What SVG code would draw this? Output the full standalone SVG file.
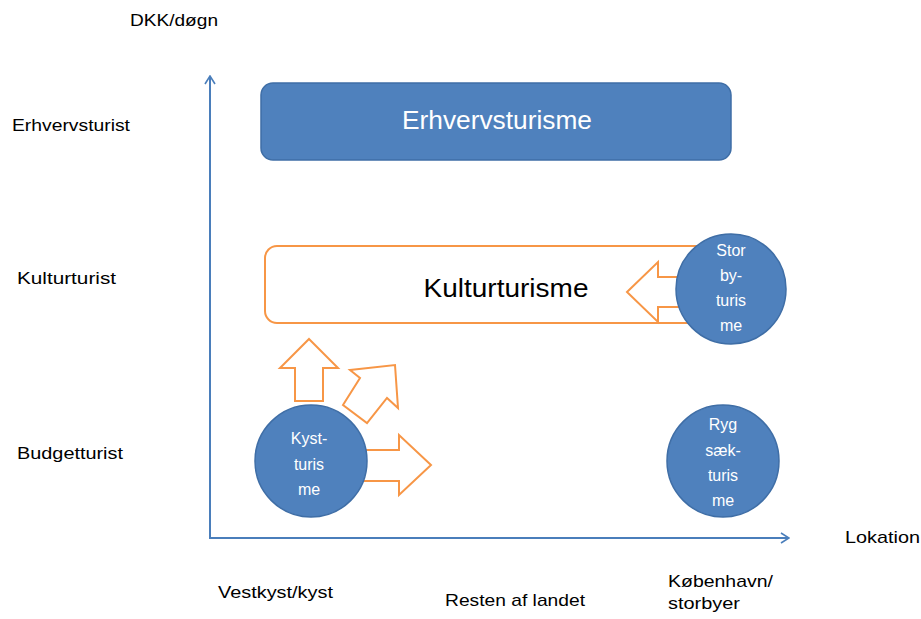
<svg xmlns="http://www.w3.org/2000/svg" width="921" height="619" viewBox="0 0 921 619">
<defs>
<style>
.lbl{font-family:"Liberation Sans",Arial,sans-serif;font-size:17px;fill:#000}
.ctext{font-family:"Liberation Sans",Arial,sans-serif;font-size:16px;fill:#fff;text-anchor:middle}
.blue{fill:#4f81bd;stroke:#3f6ea6;stroke-width:1.5}
.orange{fill:#fff;stroke:#f79646;stroke-width:2}
.axis{stroke:#4a7ebb;stroke-width:2;fill:none}
</style>
<marker id="arr" viewBox="0 0 10 12" refX="9" refY="6" markerWidth="5" markerHeight="6" orient="auto" markerUnits="strokeWidth">
<path d="M1,1 L9,6 L1,11" fill="none" stroke="#4a7ebb" stroke-width="1.6"/>
</marker>
</defs>
<rect width="921" height="619" fill="#fff"/>

<g id="connectors">
<line class="axis" x1="210" y1="538" x2="210" y2="76" marker-end="url(#arr)"/>
<line class="axis" x1="209" y1="538" x2="789" y2="538" marker-end="url(#arr)"/>
</g>

<g id="labels">
<text class="lbl" x="130" y="26" textLength="88" lengthAdjust="spacingAndGlyphs">DKK/døgn</text>
<text class="lbl" x="12" y="131" textLength="118" lengthAdjust="spacingAndGlyphs">Erhvervsturist</text>
<text class="lbl" x="17" y="284" textLength="99" lengthAdjust="spacingAndGlyphs">Kulturturist</text>
<text class="lbl" x="17" y="459" textLength="106" lengthAdjust="spacingAndGlyphs">Budgetturist</text>
<text class="lbl" x="845" y="543" textLength="75" lengthAdjust="spacingAndGlyphs">Lokation</text>
<text class="lbl" x="218" y="598" textLength="115" lengthAdjust="spacingAndGlyphs">Vestkyst/kyst</text>
<text class="lbl" x="445" y="606" textLength="140" lengthAdjust="spacingAndGlyphs">Resten af landet</text>
<text class="lbl" x="668" y="587" textLength="105" lengthAdjust="spacingAndGlyphs">København/</text>
<text class="lbl" x="668" y="609" textLength="72" lengthAdjust="spacingAndGlyphs">storbyer</text>
</g>

<g id="erhvervsturisme">
<rect class="blue" x="261" y="83" width="470" height="77" rx="12"/>
<text x="497" y="129" font-family="Liberation Sans, Arial, sans-serif" font-size="25" fill="#fff" text-anchor="middle" textLength="190" lengthAdjust="spacingAndGlyphs">Erhvervsturisme</text>
</g>

<g id="kulturturisme">
<rect class="orange" x="265" y="246" width="455" height="77" rx="12"/>
<text x="506" y="297" font-family="Liberation Sans, Arial, sans-serif" font-size="25" fill="#000" text-anchor="middle" textLength="165" lengthAdjust="spacingAndGlyphs">Kulturturisme</text>
</g>

<g id="arrow-left">
<polygon class="orange" points="627,292 658,262 658,277 700,277 700,307 658,307 658,322"/>
</g>

<g id="storbyturisme">
<circle class="blue" cx="731" cy="289" r="55"/>
<text class="ctext" x="731" y="256">Stor</text>
<text class="ctext" x="731" y="281">by-</text>
<text class="ctext" x="731" y="306">turis</text>
<text class="ctext" x="731" y="331">me</text>
</g>

<g id="arrow-up">
<polygon class="orange" points="309,339 338,368 323,368 323,401 295,401 295,368 280,368"/>
</g>

<g id="arrow-diag">
<polygon class="orange" points="395,365 398,408 387,398 367,423 343,405 360,378 350,370"/>
</g>

<g id="arrow-right">
<polygon class="orange" points="355,450 399,450 399,435 431,465 399,495 399,481 355,481"/>
</g>

<g id="kystturisme">
<circle class="blue" cx="311" cy="461" r="56"/>
<text class="ctext" x="309" y="444">Kyst-</text>
<text class="ctext" x="309" y="470">turis</text>
<text class="ctext" x="309" y="495">me</text>
</g>

<g id="rygsaekturisme">
<circle class="blue" cx="723" cy="461" r="56"/>
<text class="ctext" x="723" y="430">Ryg</text>
<text class="ctext" x="723" y="456">sæk-</text>
<text class="ctext" x="723" y="481">turis</text>
<text class="ctext" x="723" y="506">me</text>
</g>
</svg>
